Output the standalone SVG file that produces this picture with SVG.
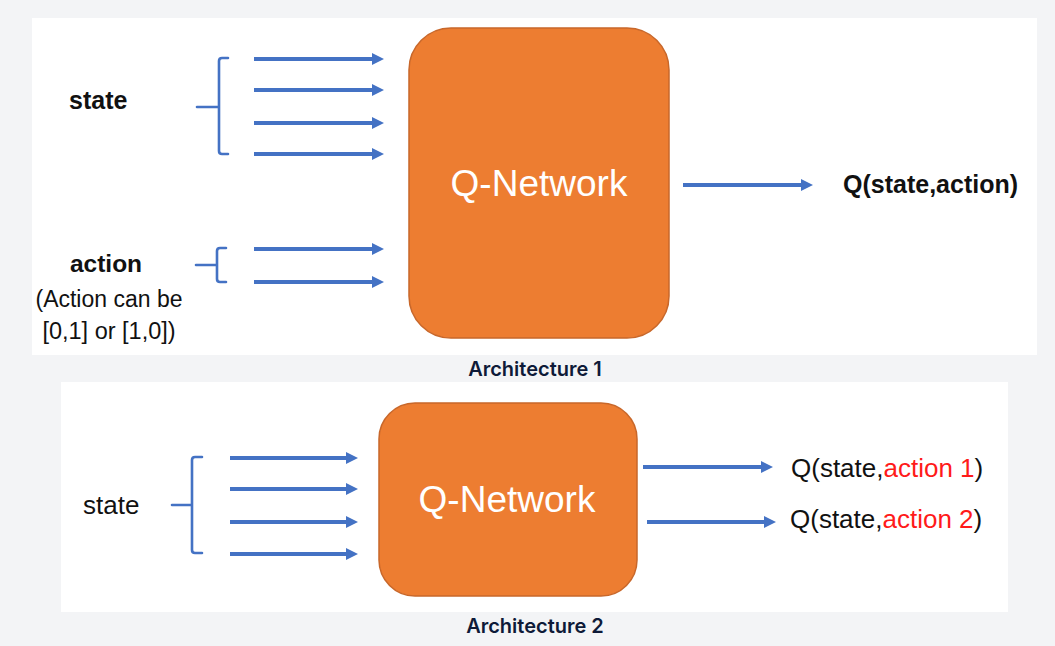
<svg xmlns="http://www.w3.org/2000/svg" width="1055" height="646" viewBox="0 0 1055 646">
<defs>
<marker id="ah" viewBox="0 0 12 12" refX="0" refY="6" markerWidth="12" markerHeight="12" markerUnits="userSpaceOnUse" orient="auto">
<path d="M0,0 L12,6 L0,12 z" fill="#4472C4"/>
</marker>
<style>
.arr{stroke:#4472C4;stroke-width:4;fill:none;marker-end:url(#ah)}
.br{stroke:#4472C4;stroke-width:2.6;fill:none;stroke-linecap:round}
.box{fill:#ED7D31;stroke:#C8672A;stroke-width:1.5}
.qn{font-family:"Liberation Sans",Arial,sans-serif;font-size:37px;fill:#ffffff;text-anchor:middle}
.t{font-family:"Liberation Sans",Arial,sans-serif;fill:#111111}
.b{font-weight:bold}
.red{fill:#FF1A1A}
.cap{font-family:Inter,"Liberation Sans",sans-serif;font-weight:600;font-size:20px;fill:#0E1A38;text-anchor:middle}
</style>
</defs>
<rect width="1055" height="646" fill="#F3F4F6"/>
<rect x="32" y="18" width="1005" height="337" fill="#ffffff"/>
<rect x="61" y="382" width="947" height="230" fill="#ffffff"/>

<g id="arch1">
<g id="state1-label"><text class="t b" x="69" y="109" font-size="25">state</text></g>
<g id="action1-label">
<text class="t b" x="106" y="272" font-size="24.5" text-anchor="middle">action</text>
<text class="t" x="109" y="307" font-size="23" text-anchor="middle">(Action can be</text>
<text class="t" x="109" y="339" font-size="23.5" text-anchor="middle">[0,1] or [1,0])</text>
</g>
<g id="qnet1"><rect class="box" x="409" y="28" width="260" height="310" rx="42" ry="42"/><text class="qn" x="539" y="196">Q-Network</text></g>
<g id="out1"><text class="t b" x="843" y="193" font-size="25">Q(state,action)</text></g>
</g>

<g id="arch2">
<g id="state2-label"><text class="t" x="83" y="514" font-size="26">state</text></g>
<g id="qnet2"><rect class="box" x="379" y="403" width="258" height="193" rx="36" ry="36"/><text class="qn" x="507" y="512">Q-Network</text></g>
<g id="out2a"><text class="t" x="791" y="477" font-size="26">Q(state,<tspan class="red">action 1</tspan>)</text></g>
<g id="out2b"><text class="t" x="790" y="528" font-size="26">Q(state,<tspan class="red">action 2</tspan>)</text></g>
</g>

<g id="connectors">
<path class="br" d="M228,58 H222 Q219,58 219,61 V151 Q219,154 222,154 H228 M197,107 H219"/>
<path class="br" d="M226,248 H220 Q217,248 217,251 V279 Q217,282 220,282 H226 M196,265 H217"/>
<path class="br" d="M202,457 H195 Q192,457 192,460 V550 Q192,553 195,553 H202 M172,505 H192"/>
<line class="arr" x1="254" y1="59" x2="372" y2="59"/>
<line class="arr" x1="254" y1="90" x2="372" y2="90"/>
<line class="arr" x1="254" y1="123" x2="372" y2="123"/>
<line class="arr" x1="254" y1="154" x2="372" y2="154"/>
<line class="arr" x1="254" y1="249" x2="372" y2="249"/>
<line class="arr" x1="254" y1="282" x2="372" y2="282"/>
<line class="arr" x1="683" y1="185" x2="801" y2="185"/>
<line class="arr" x1="230" y1="458" x2="346" y2="458"/>
<line class="arr" x1="230" y1="489" x2="346" y2="489"/>
<line class="arr" x1="230" y1="522" x2="346" y2="522"/>
<line class="arr" x1="230" y1="554" x2="346" y2="554"/>
<line class="arr" x1="643" y1="467" x2="761" y2="467"/>
<line class="arr" x1="647" y1="522" x2="764" y2="522"/>
</g>

<g id="captions">
<text class="cap" x="535" y="376">Architecture 1</text>
<text class="cap" x="535" y="633">Architecture 2</text>
</g>
</svg>
